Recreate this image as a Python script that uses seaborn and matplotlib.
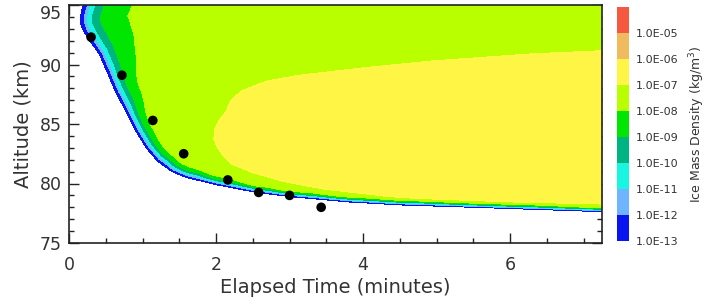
import numpy as np
import matplotlib
matplotlib.use("Agg")
import matplotlib.pyplot as plt
from matplotlib.path import Path
from matplotlib.ticker import MultipleLocator
import matplotlib.transforms as mtransforms
import seaborn as sns

# ---------------- data ----------------
# lower edge of the plume (the 1.0E-13 kg/m3 contour)
edge_time = [0.23, 0.17, 0.15, 0.19, 0.27, 0.41, 0.53, 0.64, 0.78, 0.91, 1.05,
             1.20, 1.40, 1.60, 2.00, 2.55, 3.00, 3.80, 4.50, 5.60, 7.30]
edge_alt = [95.6, 94.5, 93.6, 92.9, 92.1, 90.9, 89.2, 87.6, 86.0, 84.4, 83.0,
            81.9, 81.0, 80.5, 79.9, 79.25, 78.9, 78.45, 78.2, 77.98, 77.62]

# thickness of each decade band (1e-13..1e-8) measured normal to the edge,
# read at a few edge points (index into the edge arrays)
band_anchor = [0, 2, 4, 5, 7, 9, 11, 13, 14, 15, 16, 17, 18, 19, 20]
band_blue = [4.0, 4.0, 3.5, 3.0, 3.0, 2.5, 2.5, 2.0, 1.7, 1.5, 1.3, 1.2, 1.1, 1.0, 1.0]
band_lblue = [3.0, 3.0, 3.0, 2.5, 2.0, 1.8, 1.8, 1.5, 1.2, 1.0, 0.9, 0.8, 0.8, 0.7, 0.7]
band_cyan = [5.0, 5.0, 4.5, 4.0, 3.5, 2.5, 2.2, 1.5, 1.2, 1.0, 0.9, 0.8, 0.8, 0.7, 0.7]
band_teal = [8.0, 9.0, 8.0, 6.0, 4.5, 3.0, 2.5, 2.0, 1.5, 1.1, 0.9, 0.8, 0.8, 0.7, 0.7]
band_green = [36.0, 36.0, 28.0, 17.0, 10.0, 6.0, 5.0, 4.0, 3.0, 2.0, 1.6, 1.4, 1.2, 1.1, 1.0]

# outline of the > 1.0E-07 core
core_time = [1.97, 1.98, 2.04, 2.14, 2.20, 2.35, 2.68, 3.13, 4.04, 4.94, 6.30, 7.40,
             7.40, 6.00, 4.72, 4.35, 3.50, 3.13, 2.90, 2.50, 2.22, 2.10, 2.02]
core_alt = [83.7, 84.6, 85.3, 86.1, 87.0, 87.8, 88.6, 89.1, 89.75, 90.3, 90.9, 91.2,
            78.25, 78.45, 78.75, 78.9, 79.5, 79.9, 80.2, 80.9, 81.6, 82.3, 83.0]

# observed points
obs_time = [0.30, 0.72, 1.14, 1.56, 2.16, 2.58, 3.00, 3.43]
obs_alt = [92.3, 89.1, 85.3, 82.5, 80.3, 79.25, 79.0, 78.0]

level_exp = [-13, -12, -11, -10, -9, -8, -7, -6, -5, -4]
cbar_labels = ["1.0E-13", "1.0E-12", "1.0E-11", "1.0E-10", "1.0E-09",
               "1.0E-08", "1.0E-07", "1.0E-06", "1.0E-05"]
band_colors = ["#0a14f0", "#6fb4ff", "#18f5e0", "#00b482", "#00e600",
               "#baff00", "#fff544", "#f0bb5e", "#f5573f"]

# ---------------- figure ----------------
sns.set_style("ticks")
plt.rcParams["font.family"] = ["DejaVu Sans"]
W, H = 709, 304
fig = plt.figure(figsize=(W / 100, H / 100), dpi=100)
ax_l, ax_r, ax_t, ax_b = 69, 602, 5, 243
ax = fig.add_axes([ax_l / W, 1 - ax_b / H, (ax_r - ax_l) / W, (ax_b - ax_t) / H])
xmin, xmax, ymin, ymax = 0.0, 7.25, 75.0, 95.0

sx = (ax_r - ax_l) / (xmax - xmin)   # px per minute
sy = (ax_b - ax_t) / (ymax - ymin)   # px per km

tg = np.linspace(xmin, xmax, 1100)
zg = np.linspace(ymin, ymax, 520)
T, Z = np.meshgrid(tg, zg)
PX, PY = T.ravel() * sx, Z.ravel() * sy
PTS = np.column_stack([T.ravel(), Z.ravel()])


def poly_dist(qx, qy):
    best = np.full(PX.shape, np.inf)
    for i in range(len(qx) - 1):
        dx, dy = qx[i + 1] - qx[i], qy[i + 1] - qy[i]
        L2 = dx * dx + dy * dy
        s = np.clip(((PX - qx[i]) * dx + (PY - qy[i]) * dy) / L2, 0, 1)
        best = np.minimum(best, np.hypot(PX - qx[i] - s * dx, PY - qy[i] - s * dy))
    return best


# signed distance from the plume edge
ex, ey = np.array(edge_time) * sx, np.array(edge_alt) * sy
dist = poly_dist(ex, ey)
region = Path(np.column_stack([
    list(edge_time) + [7.6, 7.6, edge_time[0]],
    list(edge_alt) + [edge_alt[-1], 96.5, 96.5]]))
inside = region.contains_points(PTS)
d = np.where(inside, dist, -dist)

# band thickness at every grid point: smooth inverse-distance blend of anchors
axp, ayp = ex[band_anchor], ey[band_anchor]
wsum = np.zeros_like(PX)
acc = [np.zeros_like(PX) for _ in range(5)]
for j in range(len(band_anchor)):
    wgt = 1.0 / (np.hypot(PX - axp[j], PY - ayp[j]) ** 3 + 1e-3)
    wsum += wgt
    for k, b in enumerate((band_blue, band_lblue, band_cyan, band_teal, band_green)):
        acc[k] += wgt * b[j]
widths = [a / wsum for a in acc]
bounds = [np.zeros_like(PX)]
for w in widths:
    bounds.append(bounds[-1] + w)

val = np.clip(-13 + d / widths[0], -14, None)
for k in range(5):
    val = np.where(d >= bounds[k], -13 + k + (d - bounds[k]) / widths[k], val)
val = np.where(d >= bounds[5], np.minimum(-8 + (d - bounds[5]) / widths[4], -7.5), val)

# core (> 1e-7)
cx = np.array(core_time + core_time[:1]) * sx
cy = np.array(core_alt + core_alt[:1]) * sy
cdist = poly_dist(cx, cy)
cin = Path(np.column_stack([core_time, core_alt])).contains_points(PTS)
yv = np.clip(-7 + np.where(cin, cdist, -cdist) / 3.0, -7.5, -6.5)
val = np.where(d >= bounds[5], np.maximum(val, yv), val)
field = val.reshape(T.shape)

cf = ax.contourf(T, Z, field, levels=level_exp, colors=band_colors, zorder=1)

sns.scatterplot(x=obs_time, y=obs_alt, color="black", s=48, edgecolor="none",
                ax=ax, zorder=5, legend=False)

ax.set_xlim(xmin, xmax)
ax.set_ylim(ymin, ymax)
ax.set_xticks([0, 2, 4, 6])
ax.set_yticks([75, 80, 85, 90, 95])
ax.xaxis.set_minor_locator(MultipleLocator(0.5))
ax.yaxis.set_minor_locator(MultipleLocator(1))
txtc = "#333333"
ax.tick_params(which="both", direction="in", top=True, right=True,
               color="#222222", width=1.0, labelcolor=txtc, labelsize=12.5)
ax.tick_params(which="major", length=7)
ax.tick_params(which="minor", length=3.5)
ax.tick_params(axis="x", pad=9)
ax.tick_params(axis="y", pad=5)
for sp in ax.spines.values():
    sp.set_color("#222222")
    sp.set_linewidth(1.2)
ax.set_xlabel("Elapsed Time (minutes)", fontsize=14, color=txtc, labelpad=3)
ax.set_ylabel("Altitude (km)", fontsize=14, color=txtc, labelpad=5)

# keep the top tick label inside the figure, as in the reference
fig.canvas.draw()
top_lbl = ax.get_yticklabels()[-1]
top_lbl.set_transform(top_lbl.get_transform() +
                      mtransforms.ScaledTranslation(0, -7 / 100, fig.dpi_scale_trans))

cax = fig.add_axes([617 / W, 1 - 241 / H, 12 / W, 234 / H])
cb = fig.colorbar(cf, cax=cax, ticks=level_exp[:-1])
cb.ax.set_yticklabels(cbar_labels)
cb.ax.tick_params(length=0, labelsize=8, pad=5, labelcolor=txtc)
cb.outline.set_visible(False)
cb.set_label("Ice Mass Density (kg/m$^3$)", fontsize=9, color=txtc, labelpad=6)

fig.savefig("out.png", dpi=100)
